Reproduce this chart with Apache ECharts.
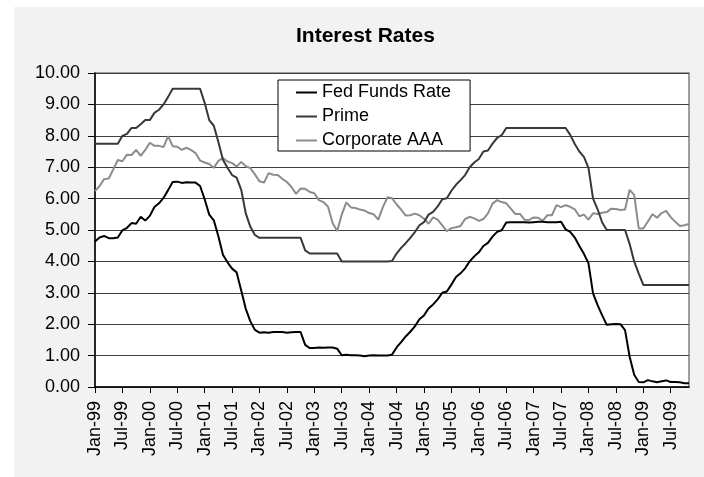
<!DOCTYPE html>
<html>
<head>
<meta charset="utf-8">
<title>Interest Rates</title>
<script src="https://cdn.jsdelivr.net/npm/echarts@6/dist/echarts.min.js"></script>
<style>
  html, body { margin: 0; padding: 0; background: #ffffff; }
  #chart { width: 704px; height: 477px; }
</style>
</head>
<body>
<div id="chart"></div>
<script>
// Monthly rates, Jan 1999 through Nov 2009 (percent)
const monthNames = ['Jan','Feb','Mar','Apr','May','Jun','Jul','Aug','Sep','Oct','Nov','Dec'];
const startYear = 1999;

const fedFunds = [
  4.63, 4.76, 4.81, 4.74, 4.74, 4.76, 4.99, 5.07, 5.22, 5.20, 5.42, 5.30,
  5.45, 5.73, 5.85, 6.02, 6.27, 6.53, 6.54, 6.50, 6.52, 6.51, 6.51, 6.40,
  5.98, 5.49, 5.31, 4.80, 4.21, 3.97, 3.77, 3.65, 3.07, 2.49, 2.09, 1.82,
  1.73, 1.74, 1.73, 1.75, 1.75, 1.75, 1.73, 1.74, 1.75, 1.75, 1.34, 1.24,
  1.24, 1.26, 1.25, 1.26, 1.26, 1.22, 1.01, 1.03, 1.01, 1.01, 1.00, 0.98,
  1.00, 1.01, 1.00, 1.00, 1.00, 1.03, 1.26, 1.43, 1.61, 1.76, 1.93, 2.16,
  2.28, 2.50, 2.63, 2.79, 3.00, 3.04, 3.26, 3.50, 3.62, 3.78, 4.00, 4.16,
  4.29, 4.49, 4.59, 4.79, 4.94, 4.99, 5.24, 5.25, 5.25, 5.25, 5.25, 5.24,
  5.25, 5.26, 5.26, 5.25, 5.25, 5.25, 5.26, 5.02, 4.94, 4.76, 4.49, 4.24,
  3.94, 2.98, 2.61, 2.28, 1.98, 2.00, 2.01, 2.00, 1.81, 0.97, 0.39, 0.16,
  0.15, 0.22, 0.18, 0.15, 0.18, 0.21, 0.16, 0.16, 0.15, 0.12, 0.12
];

const prime = [
  7.75, 7.75, 7.75, 7.75, 7.75, 7.75, 8.00, 8.06, 8.25, 8.25, 8.37, 8.50,
  8.50, 8.73, 8.83, 9.00, 9.24, 9.50, 9.50, 9.50, 9.50, 9.50, 9.50, 9.50,
  9.05, 8.50, 8.32, 7.80, 7.24, 6.98, 6.75, 6.67, 6.28, 5.53, 5.10, 4.84,
  4.75, 4.75, 4.75, 4.75, 4.75, 4.75, 4.75, 4.75, 4.75, 4.75, 4.35, 4.25,
  4.25, 4.25, 4.25, 4.25, 4.25, 4.25, 4.00, 4.00, 4.00, 4.00, 4.00, 4.00,
  4.00, 4.00, 4.00, 4.00, 4.00, 4.01, 4.25, 4.43, 4.58, 4.75, 4.93, 5.15,
  5.25, 5.49, 5.58, 5.75, 5.98, 6.01, 6.25, 6.44, 6.59, 6.75, 7.00, 7.15,
  7.26, 7.50, 7.53, 7.75, 7.93, 8.02, 8.25, 8.25, 8.25, 8.25, 8.25, 8.25,
  8.25, 8.25, 8.25, 8.25, 8.25, 8.25, 8.25, 8.25, 8.03, 7.74, 7.50, 7.33,
  6.98, 6.00, 5.66, 5.24, 5.00, 5.00, 5.00, 5.00, 5.00, 4.56, 4.00, 3.61,
  3.25, 3.25, 3.25, 3.25, 3.25, 3.25, 3.25, 3.25, 3.25, 3.25, 3.25
];

const corporateAAA = [
  6.24, 6.40, 6.62, 6.64, 6.93, 7.23, 7.19, 7.40, 7.39, 7.55, 7.36, 7.55,
  7.78, 7.68, 7.68, 7.64, 7.99, 7.67, 7.65, 7.55, 7.62, 7.55, 7.45, 7.21,
  7.15, 7.10, 6.98, 7.20, 7.29, 7.18, 7.13, 7.02, 7.17, 7.03, 6.97, 6.77,
  6.55, 6.51, 6.81, 6.76, 6.75, 6.63, 6.53, 6.37, 6.15, 6.32, 6.31, 6.21,
  6.17, 5.95, 5.89, 5.74, 5.22, 4.97, 5.49, 5.88, 5.72, 5.70, 5.65, 5.62,
  5.54, 5.50, 5.33, 5.73, 6.04, 6.01, 5.82, 5.65, 5.46, 5.47, 5.52, 5.47,
  5.36, 5.20, 5.40, 5.33, 5.15, 4.96, 5.06, 5.09, 5.13, 5.35, 5.42, 5.37,
  5.29, 5.35, 5.53, 5.84, 5.95, 5.89, 5.85, 5.68, 5.51, 5.51, 5.33, 5.32,
  5.40, 5.39, 5.30, 5.47, 5.47, 5.79, 5.73, 5.79, 5.74, 5.66, 5.44, 5.49,
  5.33, 5.53, 5.51, 5.55, 5.57, 5.68, 5.67, 5.64, 5.65, 6.28, 6.12, 5.05,
  5.05, 5.27, 5.50, 5.39, 5.54, 5.61, 5.41, 5.26, 5.13, 5.15, 5.19
];

// Category labels such as "Jan-99"
const categories = fedFunds.map(function (_, i) {
  const yr = (startYear + Math.floor(i / 12)) % 100;
  return monthNames[i % 12] + '-' + String(yr).padStart(2, '0');
});

const FONT = '"Liberation Sans", Arial, sans-serif';

const chart = echarts.init(document.getElementById('chart'), null, { renderer: 'canvas' });

chart.setOption({
  backgroundColor: '#ffffff',
  animation: false,
  graphic: [{
    type: 'rect',
    z: -10,
    silent: true,
    shape: { x: 14, y: 7, width: 690, height: 470 },
    style: { fill: '#f2f2f2' }
  }],
  title: {
    text: 'Interest Rates',
    left: 296,
    top: 26,
    padding: 0,
    textStyle: { fontFamily: FONT, fontSize: 21, fontWeight: 'bold', color: '#000' }
  },
  legend: {
    orient: 'vertical',
    left: 278,
    top: 80,
    padding: [2, 19, 0, 18],
    itemGap: 3,
    itemWidth: 21,
    itemHeight: 2,
    icon: 'rect',
    backgroundColor: '#ffffff',
    borderColor: '#000000',
    borderWidth: 1,
    textStyle: { fontFamily: FONT, fontSize: 18, color: '#000', lineHeight: 21 },
    data: ['Fed Funds Rate', 'Prime', 'Corporate AAA']
  },
  grid: {
    left: 95,
    top: 73,
    right: 15,
    bottom: 90,
    show: true,
    backgroundColor: '#ffffff',
    borderColor: '#808080',
    borderWidth: 1.5
  },
  xAxis: {
    type: 'category',
    data: categories,
    boundaryGap: false,
    axisLine: { lineStyle: { color: '#000', width: 1.5 } },
    axisTick: { interval: 5, length: 6, lineStyle: { color: '#000' } },
    axisLabel: {
      interval: 5,
      rotate: 90,
      margin: 14,
      fontFamily: FONT,
      fontSize: 18,
      color: '#000'
    },
    splitLine: { show: false }
  },
  yAxis: {
    type: 'value',
    min: 0,
    max: 10,
    interval: 1,
    axisLine: { show: true, lineStyle: { color: '#000', width: 1.5 } },
    axisTick: { show: true, length: 7, lineStyle: { color: '#000' } },
    axisLabel: {
      margin: 15,
      fontFamily: FONT,
      fontSize: 18,
      color: '#000',
      formatter: function (v) { return v.toFixed(2); }
    },
    splitLine: { lineStyle: { color: '#404040', width: 1 } }
  },
  series: [
    {
      name: 'Fed Funds Rate',
      type: 'line',
      data: fedFunds,
      showSymbol: false,
      color: '#000000',
      lineStyle: { width: 2, color: '#000000' },
      z: 4
    },
    {
      name: 'Prime',
      type: 'line',
      data: prime,
      showSymbol: false,
      color: '#383838',
      lineStyle: { width: 2, color: '#383838' },
      z: 3
    },
    {
      name: 'Corporate AAA',
      type: 'line',
      data: corporateAAA,
      showSymbol: false,
      color: '#8c8c8c',
      lineStyle: { width: 2, color: '#8c8c8c' },
      z: 2
    }
  ]
});
</script>
</body>
</html>
